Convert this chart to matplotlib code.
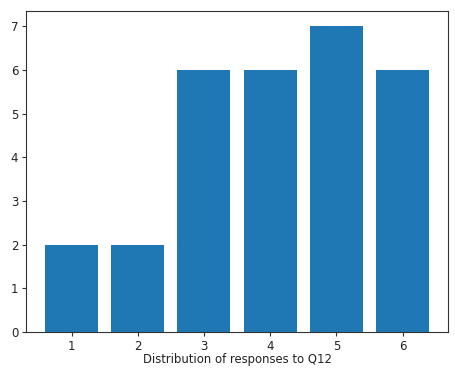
import matplotlib
matplotlib.use('Agg')
import matplotlib.pyplot as plt

responses = [1, 2, 3, 4, 5, 6]
counts = [2, 2, 6, 6, 7, 6]

fig = plt.figure(figsize=(4.55, 3.69), dpi=100)
ax = fig.add_axes([0.057, 0.100, 0.928, 0.870])
ax.bar(responses, counts, color='#1f77b4')
ax.set_xlabel('Distribution of responses to Q12', fontsize=8.4, labelpad=0.5, color='#222222')
ax.tick_params(labelsize=8.5, length=3, width=0.8, pad=2.5, labelcolor='#222222', color='#333333')
for s in ax.spines.values():
    s.set_linewidth(0.8)
    s.set_color('#333333')

fig.savefig('out.png', dpi=100)
